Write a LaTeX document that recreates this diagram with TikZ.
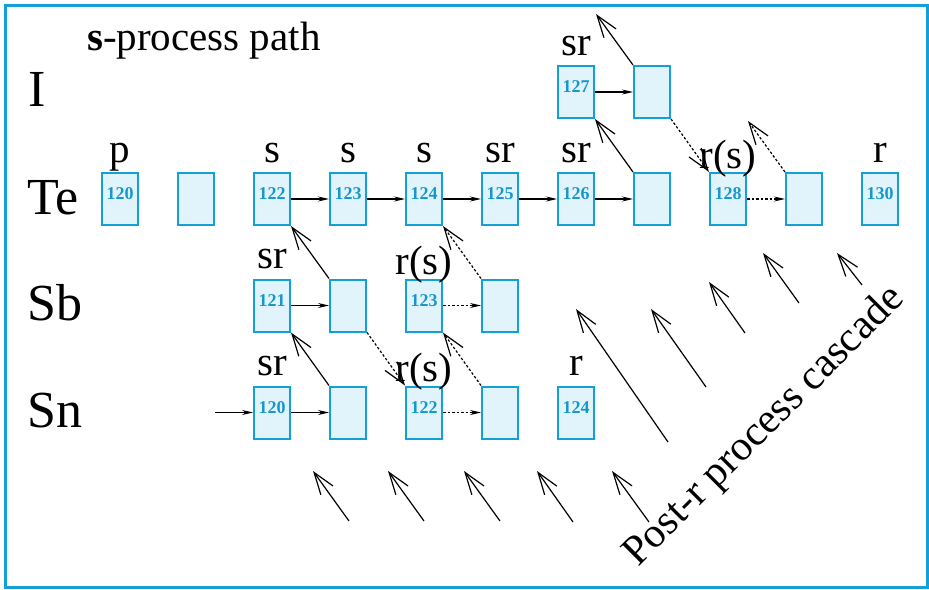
\documentclass[tikz,border=0pt]{standalone}
\usepackage{fontspec}
\setmainfont{Liberation Serif}
\usetikzlibrary{arrows.meta}

\definecolor{frameblue}{RGB}{18,160,214}
\definecolor{boxfill}{RGB}{226,244,251}
\definecolor{numblue}{RGB}{22,152,204}

\tikzset{
  nuc/.style={draw=frameblue, fill=boxfill, line width=2pt,
    minimum width=36pt, minimum height=52pt, inner sep=0pt},
  num/.style={text=numblue, font=\fontsize{18}{18}\selectfont\bfseries, inner sep=0pt},
  proclab/.style={anchor=base, inner sep=0pt, font=\fontsize{41}{41}\selectfont},
  elem/.style={anchor=base west, inner sep=0pt, font=\fontsize{52}{52}\selectfont},
  capture/.style={line width=1.1pt, -{Stealth[length=11pt,width=5pt]}},
  capturedot/.style={capture, dash pattern=on 2.5pt off 2pt},
  decay/.style={line width=1.2pt, -{Straight Barb[length=22pt,width=15pt]}},
  decaydot/.style={decay, dash pattern=on 2.5pt off 2pt},
}

% isotope box: name, x, y, mass number
\newcommand\isobox[4]{%
  \node[nuc] (#1) at (#2,#3) {};
  \node[num] (#1-n) at ([yshift=5pt]#1.center) {#4};}
% empty box: name, x, y
\newcommand\emptybox[3]{\node[nuc] (#1) at (#2,#3) {};}
% process label above a box: name, gap, text
\newcommand\plabel[3]{\node[proclab] (#1-l) at ([yshift=#2]#1.north) {#3};}

\begin{document}
\begin{tikzpicture}[x=1pt, y=-1pt]
\useasboundingbox (0,0) rectangle (929,589);

% frame
\draw[frameblue, line width=3pt] (5.5,5) rectangle (927.5,587.5);

% title and element symbols
\node[anchor=base west, inner sep=0pt, font=\fontsize{41}{41}\selectfont]
  (title) at (87,50) {\textbf{s}-process path};
\node[elem] (elI)  at (28,106) {I};
\node[elem] (elTe) at (27,214) {Te};
\node[elem] (elSb) at (27,320.5) {Sb};
\node[elem] (elSn) at (27,427.5) {Sn};

% iodine
\isobox{i127}{576}{92}{127}
\emptybox{i128}{652}{92}
% tellurium
\isobox{te120}{120}{199}{120}
\emptybox{te121}{196}{199}
\isobox{te122}{272}{199}{122}
\isobox{te123}{348}{199}{123}
\isobox{te124}{424}{199}{124}
\isobox{te125}{500}{199}{125}
\isobox{te126}{576}{199}{126}
\emptybox{te127}{652}{199}
\isobox{te128}{728}{199}{128}
\emptybox{te129}{804}{199}
\isobox{te130}{880}{199}{130}
% antimony
\isobox{sb121}{272}{305.5}{121}
\emptybox{sb122}{348}{305.5}
\isobox{sb123}{424}{305.5}{123}
\emptybox{sb124}{500}{305.5}
% tin
\isobox{sn120}{272}{412.5}{120}
\emptybox{sn121}{348}{412.5}
\isobox{sn122}{424}{412.5}{122}
\emptybox{sn123}{500}{412.5}
\isobox{sn124}{576}{412.5}{124}

% process labels
\plabel{i127}{10pt}{sr}
\plabel{te120}{10pt}{p}
\plabel{te122}{10pt}{s}
\plabel{te123}{10pt}{s}
\plabel{te124}{10pt}{s}
\plabel{te125}{10pt}{sr}
\plabel{te126}{10pt}{sr}
\plabel{te128}{4pt}{r(s)}
\plabel{te130}{10pt}{r}
\plabel{sb121}{10pt}{sr}
\plabel{sb123}{4pt}{r(s)}
\plabel{sn120}{10pt}{sr}
\plabel{sn122}{4pt}{r(s)}
\plabel{sn124}{10pt}{r}

% neutron captures
\coordinate (feed) at (215,412.5);
\draw[capture] (feed) -- (sn120);
\draw[capture] (sn120) -- (sn121);
\draw[capture] (sb121) -- (sb122);
\draw[capture] (te122) -- (te123);
\draw[capture] (te123) -- (te124);
\draw[capture] (te124) -- (te125);
\draw[capture] (te125) -- (te126);
\draw[capture] (te126) -- (te127);
\draw[capture] (i127) -- (i128);
\draw[capturedot] (sn122) -- (sn123);
\draw[capturedot] (sb123) -- (sb124);
\draw[capturedot] (te128) -- (te129);

% beta decays
\coordinate (xe128) at (596,14);
\coordinate (i129) at (748,121);
\draw[decay] (sn121.north west) -- (sb121.south east);
\draw[decay] (sb122.north west) -- (te122.south east);
\draw[decay] (te127.north west) -- (i127.south east);
\draw[decay] (i128.north west) -- (xe128);
\draw[decaydot] (sn123.north west) -- (sb123.south east);
\draw[decaydot] (sb124.north west) -- (te124.south east);
\draw[decaydot] (te129.north west) -- (i129);
\draw[decaydot] (i128.south east) -- (te128.north west);
\draw[decaydot] (sb122.south east) -- (sn122.north west);

% post-r cascade
\foreach \n/\ax/\ay/\bx/\by in {1/349/521/313/471, 2/424/521/388/471,
    3/500/521/464/471, 4/573/522/537/471, 5/649/522/612/471,
    6/668/442/576/309, 7/706/387/651/309, 8/745/333/709/282,
    9/799/303/763/253, 10/862/285/837/253}{
  \coordinate (c\n a) at (\ax,\ay);
  \coordinate (c\n b) at (\bx,\by);
  \draw[decay] (c\n a) -- (c\n b);
}
\node[anchor=base west, inner sep=0pt, rotate=45, font=\fontsize{42}{42}\selectfont]
  (cascade) at (638,568) {Post-r process cascade};
\end{tikzpicture}
\end{document}
